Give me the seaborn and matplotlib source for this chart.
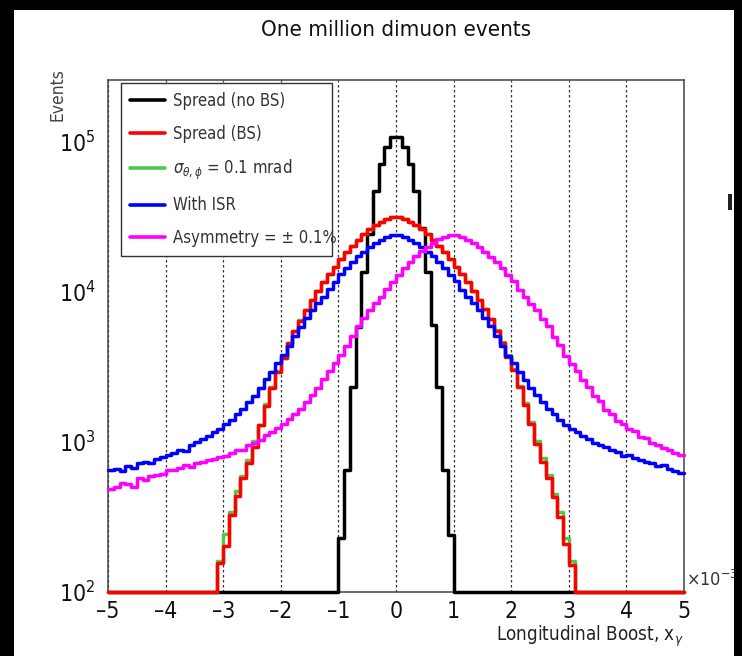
import numpy as np
import pandas as pd
import matplotlib
matplotlib.use("Agg")
import matplotlib.pyplot as plt
import seaborn as sns
from matplotlib.patches import Rectangle
from matplotlib.lines import Line2D
from matplotlib.ticker import MultipleLocator, LogLocator, NullFormatter

# ---------------- data ----------------
x_range = (-5.0, 5.0)
n_bins = 100
y_floor = 100.0
y_top = 2.6e5

# Spread (no BS): bins from -1.0 to 1.0
spread_nobs_core = [228, 650, 2340, 5870, 13700, 24600, 47400, 72100, 93100, 108000,
                    108000, 93000, 72000, 47000, 26700, 13700, 6000, 2340, 650, 240]
spread_nobs = [0] * 40 + spread_nobs_core + [0] * 40

# Spread (BS): bins from -3.1 to 3.1
spread_bs_core = [155, 204, 324, 437, 575, 724, 933, 1290, 1740, 2290,
                  2950, 3630, 4570, 5500, 6460, 7590, 8910, 10200, 11700, 13200,
                  14800, 16600, 18600, 20400, 22400, 24500, 26300, 28200, 29500, 30900,
                  31600,
                  31600, 30900, 29500, 28200, 26300, 24500, 22400, 20400, 18600, 16600,
                  14800, 13200, 11700, 10200, 8900, 7760, 6610, 5500, 4570, 3720,
                  3020, 2340, 1780, 1320, 977, 741, 575, 427, 316, 209,
                  151]
spread_bs = [0] * 19 + spread_bs_core + [0] * 19

# sigma_theta,phi = 0.1 mrad: bins from -3.1 to 3.1
sigma_core = [160, 245, 340, 470, 590, 760, 1010, 1300, 1800, 2330,
              2980, 3650, 4600, 5520, 6480, 7600, 8920, 10200, 11700, 13200,
              14800, 16600, 18600, 20400, 22400, 24500, 26300, 28200, 29500, 30900,
              31600,
              31600, 30900, 29500, 28200, 26300, 24500, 22400, 20400, 18600, 16600,
              14800, 13200, 11700, 10200, 8900, 7760, 6610, 5560, 4640, 3780,
              3090, 2380, 1830, 1360, 1010, 780, 600, 450, 340, 230,
              160]
sigma_mrad = [0] * 19 + sigma_core + [0] * 19

# With ISR: full range
with_isr = [650, 660, 645, 690, 675, 725, 740, 725, 775, 795,
            815, 850, 890, 870, 955, 1000, 1050, 1100, 1175, 1230,
            1320, 1410, 1550, 1660, 1860, 2040, 2290, 2630, 2950, 3390,
            3800, 4370, 5130, 5890, 6760, 7590, 8510, 9330, 10500, 11700,
            13200, 14500, 15800, 17400, 18600, 20000, 21400, 22400, 23400, 24000,
            24000, 23500, 22300, 21300, 20000, 18500, 17300, 15900, 14400, 13100,
            11800, 10400, 9300, 8400, 7600, 6700, 5900, 5100, 4400, 3750,
            3350, 2950, 2600, 2300, 2050, 1850, 1650, 1530, 1400, 1300,
            1230, 1170, 1090, 1050, 990, 950, 930, 880, 860, 810,
            820, 780, 760, 740, 720, 690, 700, 660, 640, 620]

# Asymmetry = +-0.1%: full range
asymmetry = [490, 500, 535, 525, 500, 575, 560, 590, 600, 615,
             655, 650, 670, 700, 680, 720, 735, 760, 770, 800,
             810, 845, 880, 880, 950, 990, 1040, 1110, 1160, 1240,
             1310, 1420, 1540, 1670, 1850, 2050, 2280, 2620, 2970, 3370,
             3820, 4350, 5100, 5900, 6750, 7600, 8480, 9350, 10500, 11700,
             13100, 14500, 15900, 17300, 18700, 19900, 21300, 22500, 23300, 24000,
             24000, 23400, 22400, 21200, 20100, 18600, 17200, 15900, 14500, 13000,
             11900, 10400, 9300, 8350, 7650, 6650, 5950, 5050, 4450, 3750,
             3300, 2980, 2580, 2320, 2030, 1870, 1630, 1550, 1380, 1310,
             1220, 1180, 1080, 1060, 980, 960, 920, 890, 850, 820]

series_labels = ["Spread (no BS)", "Spread (BS)", r"$\sigma_{\theta,\phi}$ = 0.1 mrad",
                 "With ISR", "Asymmetry = \u00b1 0.1%"]
series_colors = ["#000000", "#ff0000", "#4ec94e", "#0000ff", "#ff00ff"]
series_values = [spread_nobs, spread_bs, sigma_mrad, with_isr, asymmetry]
draw_order = [0, 2, 1, 3, 4]

x_ticks = [-5, -4, -3, -2, -1, 0, 1, 2, 3, 4, 5]

# ---------------- style ----------------
sns.set_theme(style="white")
plt.rcParams["font.family"] = ["DejaVu Sans"]
plt.rcParams["font.stretch"] = "condensed"
plt.rcParams["mathtext.fontset"] = "custom"
plt.rcParams["mathtext.rm"] = "DejaVu Sans"
plt.rcParams["mathtext.it"] = "DejaVu Sans:italic"
plt.rcParams["mathtext.sf"] = "DejaVu Sans"

W, H = 742, 656
fig = plt.figure(figsize=(W / 100, H / 100), dpi=100)
fig.set_facecolor("black")
fig.add_artist(Rectangle((14 / W, 0), (734 - 14) / W, 1 - 10 / H,
                         transform=fig.transFigure, facecolor="white",
                         edgecolor="none", zorder=-5))

ax = fig.add_axes([108 / W, 1 - 592 / H, 576 / W, 512 / H])

edges = np.linspace(x_range[0], x_range[1], n_bins + 1)
centers = 0.5 * (edges[:-1] + edges[1:])

for k, i in enumerate(draw_order):
    df = pd.DataFrame({"x": centers,
                       "w": np.maximum(np.asarray(series_values[i], dtype=float), y_floor)})
    sns.histplot(data=df, x="x", weights="w", bins=list(edges), element="step", fill=False,
                 color=series_colors[i], linewidth=2.5, ax=ax)
    ax.lines[-1].set_clip_on(False)
    ax.lines[-1].set_zorder(3 + k * 0.1)

ax.set_yscale("log")
ax.set_xlim(*x_range)
ax.set_ylim(y_floor, y_top)
ax.set_xlabel("")
ax.set_ylabel("")

ax.set_xticks(x_ticks)
ax.set_xticklabels([f"{t}".replace("-", "\u2013") for t in x_ticks])
ax.xaxis.set_minor_locator(MultipleLocator(0.2))
ax.yaxis.set_major_locator(LogLocator(base=10, numticks=10))
ax.yaxis.set_minor_locator(LogLocator(base=10, subs=np.arange(2, 10), numticks=20))
ax.yaxis.set_minor_formatter(NullFormatter())

ax.tick_params(axis="x", which="major", direction="in", length=10, width=1.0,
               color="#333333", labelsize=16.5, pad=6, labelcolor="#111111")
ax.tick_params(axis="x", which="minor", direction="in", length=6, width=1.0, color="#333333")
ax.tick_params(axis="y", which="major", direction="in", length=14, width=1.0,
               color="#333333", labelsize=16.5, pad=9, labelcolor="#111111")
ax.tick_params(axis="y", which="minor", direction="in", length=8, width=1.0, color="#333333")

ax.xaxis.grid(True, which="major", linestyle=(0, (2, 2)), color="#333333", linewidth=0.9)
ax.yaxis.grid(False)
for s in ax.spines.values():
    s.set_color("#444444")
    s.set_linewidth(1.1)
    s.set_zorder(2)

handles = [Line2D([], [], color=c, linewidth=2.6) for c in series_colors]
leg = ax.legend(handles, series_labels, loc="upper left",
                bbox_to_anchor=(13 / 576, 1 - 3 / 512 - 0.332, 211 / 576, 0.332),
                mode="expand", borderaxespad=0, fontsize=12, frameon=True,
                fancybox=False, edgecolor="#333333", framealpha=1,
                handlelength=2.1, handletextpad=0.45, labelspacing=0.88,
                borderpad=0.55)
leg.get_frame().set_linewidth(1.0)
for t in leg.get_texts():
    t.set_color("#333333")

fig.text(396 / W, 1 - 30 / H, "One million dimuon events", ha="center", va="center",
         fontsize=16, color="#111111")
fig.text(58 / W, 1 - 68 / H, "Events", rotation=90, ha="center", va="top",
         fontsize=12.5, color="#444444")
fig.text(684 / W, 1 - 636 / H, r"Longitudinal Boost, x$_{\gamma}$", ha="right",
         va="center", fontsize=13.5, color="#222222")
fig.text(686 / W, 1 - 580 / H, r"$\times$10$^{-38}$", ha="left", va="center",
         fontsize=13, color="#333333")

# right-hand dark border and the small mark beside it
fig.add_artist(Rectangle((734 / W, 0), 8 / W, 1, transform=fig.transFigure,
                         facecolor="black", edgecolor="none", zorder=20))
fig.add_artist(Rectangle((0, 1 - 10 / H), 1, 10 / H, transform=fig.transFigure,
                         facecolor="black", edgecolor="none", zorder=20))
fig.add_artist(Rectangle((728 / W, 1 - 210 / H), 4 / W, 16 / H, transform=fig.transFigure,
                         facecolor="#222222", edgecolor="none", zorder=21))

fig.savefig("out.png", dpi=100, facecolor=fig.get_facecolor())
